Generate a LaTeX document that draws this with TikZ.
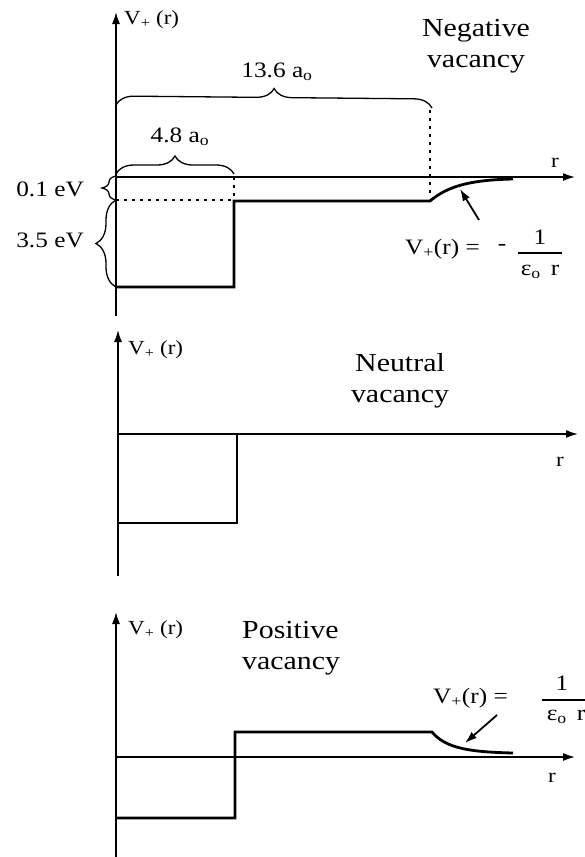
\documentclass[tikz,border=0pt]{standalone}
\usepackage{fontspec}
\setmainfont{Liberation Serif}[FakeStretch=1.15]
\usetikzlibrary{arrows.meta,decorations.pathreplacing}
\begin{document}
\begin{tikzpicture}[x=1pt,y=-1pt,
 axis/.style={line width=1.5pt,-{Latex[length=12pt,width=8pt]}},
 pot/.style={line width=2.8pt, line join=miter},
 dots/.style={line width=1.4pt, dash pattern=on 3pt off 5pt},
 brc/.style={decorate, decoration={brace,amplitude=18pt}, line width=1.3pt},
 lbl/.style={inner sep=0pt, font=\fontsize{22}{26}\selectfont},
 rlbl/.style={inner sep=0pt, font=\fontsize{20}{22}\selectfont},
 axlbl/.style={inner sep=0pt, anchor=west, font=\fontsize{20}{22}\selectfont},
 title/.style={inner sep=0pt, font=\fontsize{26}{31}\selectfont},
 note/.style={line width=1.8pt,-{Latex[length=12pt,width=8pt]}}
]
\useasboundingbox[fill=white] (0,0) rectangle (585,857);

% ---------- Panel 1: negative vacancy ----------
\coordinate (A1bot) at (116,316);
\coordinate (A1top) at (116,12);
\coordinate (O1) at (116,177);
\coordinate (R1) at (575,177);
\draw[axis] (A1bot) -- (A1top);
\draw[axis] (O1) -- (R1);
\draw[pot] (116,287) -- (234,287) -- (234,201) -- (430,201)
  .. controls (448,186) and (470,180) .. (513,179);
\draw[dots] (116,200) -- (234,200);
\draw[dots] (234,177) -- (234,200);
\draw[dots] (430,110) -- (430,198);
\draw[brc] (116,105) -- (432,108);
\draw[brc] (116,174) -- (234,174);
\draw[brc,decoration={amplitude=14pt}] (116,200) -- (116,176);
\draw[brc,decoration={amplitude=20pt}] (116,287) -- (116,200);
\node[axlbl] (v1) at (124,20) {V\textsubscript{+} (r)};
\node[lbl] (l136) at (277,72) {13.6 a\textsubscript{o}};
\node[lbl] (l48) at (180,137) {4.8 a\textsubscript{o}};
\node[title, align=center] (neg) at (476,46) {Negative\\vacancy};
\node[rlbl] (r1) at (555,163) {r};
\node[lbl, anchor=east] (e01) at (84,189) {0.1 eV};
\node[lbl, anchor=east] (e35) at (84,240) {3.5 eV};
\node[lbl, anchor=west] (f1) at (405,249) {V\textsubscript{+}(r) =};
\node[lbl] (m1) at (502,247) {-};
\node[lbl] (n1) at (540,237) {1};
\node[lbl] (d1) at (540,272) {ε\textsubscript{o}\, r};
\draw[line width=1.2pt] (518,253) -- (562,253);
\coordinate (t1) at (479,220);
\coordinate (h1) at (460,189);
\draw[note] (t1) -- (h1);

% ---------- Panel 2: neutral vacancy ----------
\coordinate (A2bot) at (118,576);
\coordinate (A2top) at (118,330);
\coordinate (O2) at (118,434);
\coordinate (R2) at (578,434);
\draw[axis] (A2bot) -- (A2top);
\draw[axis] (O2) -- (R2);
\draw[pot] (118,523) -- (237,523) -- (237,434) -- (560,434);
\node[axlbl] (v2) at (128,350) {V\textsubscript{+} (r)};
\node[title, align=center] (neu) at (400,381) {Neutral\\vacancy};
\node[rlbl] (r2) at (560,462) {r};

% ---------- Panel 3: positive vacancy ----------
\coordinate (A3bot) at (116,857);
\coordinate (A3top) at (116,612);
\coordinate (O3) at (116,757);
\coordinate (R3) at (575,757);
\draw[axis] (A3bot) -- (A3top);
\draw[axis] (O3) -- (R3);
\draw[pot] (116,818) -- (235,818) -- (235,732) -- (432,732)
  .. controls (446,749) and (472,752) .. (513,753);
\node[axlbl] (v3) at (128,630) {V\textsubscript{+} (r)};
\node[title, align=left, anchor=west] (pos) at (242,648) {Positive\\vacancy};
\node[rlbl] (r3) at (552,778) {r};
\node[lbl, anchor=west] (f3) at (433,698) {V\textsubscript{+}(r) =};
\node[lbl] (n3) at (562,683) {1};
\node[lbl] (d3) at (566,717) {ε\textsubscript{o}\, r};
\draw[line width=1.2pt] (542,700) -- (590,700);
\coordinate (t3) at (497,715);
\coordinate (h3) at (465,743);
\draw[note] (t3) -- (h3);
\end{tikzpicture}
\end{document}
